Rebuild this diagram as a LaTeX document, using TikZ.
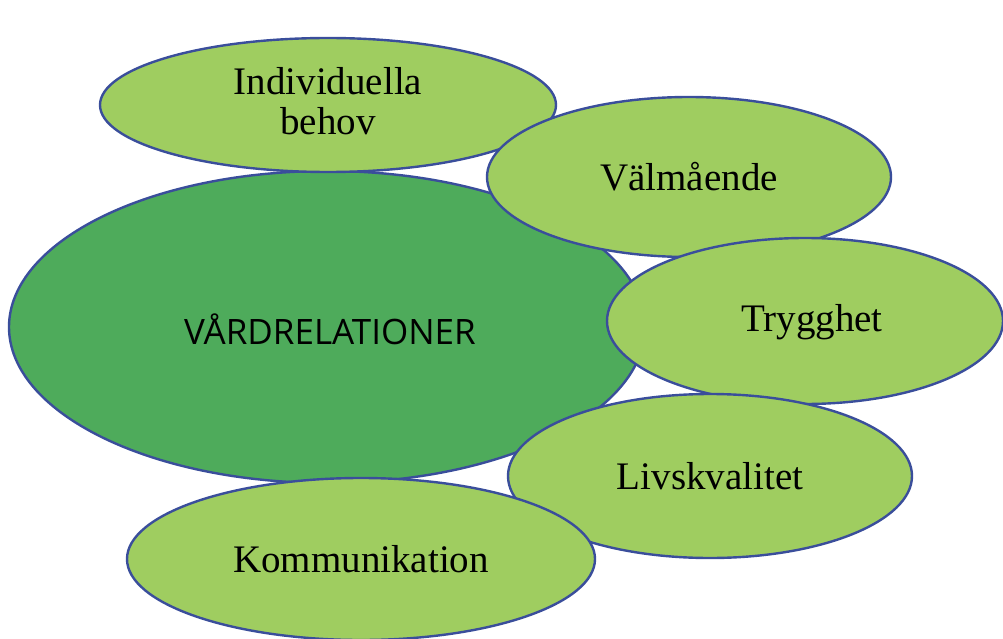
\documentclass[tikz,border=0pt]{standalone}
\usepackage{fontspec}
\setmainfont{Liberation Serif}
\newfontfamily\capsfont{Open Sans}
\usetikzlibrary{shapes.geometric}
\definecolor{lightgr}{HTML}{9FCD60}
\definecolor{darkgr}{HTML}{4EAB5B}
\definecolor{rim}{HTML}{3A4E9B}
\tikzset{
  blob/.style={ellipse, draw=rim, line width=2.4pt, inner sep=0pt, align=center},
  lightblob/.style={blob, fill=lightgr, font=\fontsize{39}{42}\selectfont},
  bigblob/.style={blob, fill=darkgr}
}
\begin{document}
\begin{tikzpicture}[x=1pt,y=-1pt]
\useasboundingbox (0,0) rectangle (1003,639);
\clip (0,0) rectangle (1003,639);
\node[bigblob, minimum width=636pt, minimum height=312pt] (vard) at (327,327) {};
\node[font=\capsfont\fontsize{35}{38}\selectfont] (vardtxt) at (330,329) {VÅRDRELATIONER};
\node[lightblob, minimum width=456pt, minimum height=134pt] (indiv) at (328,105) {};
\node[font=\fontsize{39}{40}\selectfont, align=center] (indivtxt) at (328,101) {Individuella\\behov};
\node[lightblob, minimum width=404pt, minimum height=160pt] (valm) at (689,177) {Välmående};
\node[lightblob, minimum width=396pt, minimum height=166pt] (tryg) at (805,321) {};
\node[font=\fontsize{39}{42}\selectfont] (trygtxt) at (812,322) {Trygghet};
\node[lightblob, minimum width=404pt, minimum height=164pt] (livs) at (710,476) {Livskvalitet};
\node[lightblob, minimum width=468pt, minimum height=162pt] (komm) at (361,559) {Kommunikation};
\end{tikzpicture}
\end{document}
